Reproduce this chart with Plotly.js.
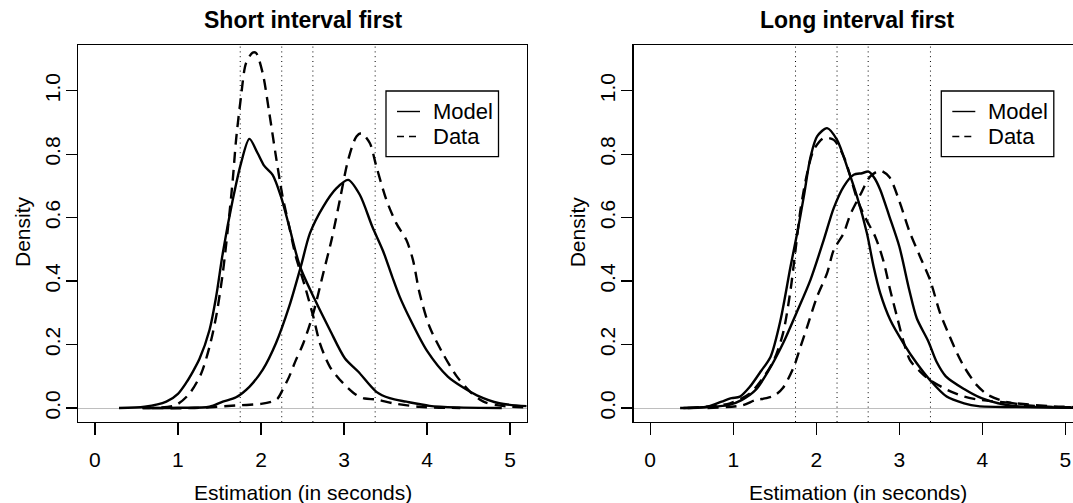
<!DOCTYPE html>
<html>
<head>
<meta charset="utf-8">
<script src="https://cdn.plot.ly/plotly-3.0.1.min.js"></script>
<style>
  html, body { margin: 0; padding: 0; background: #fff; }
  #chart { width: 1073px; height: 503px; }
</style>
</head>
<body>
<div id="chart"></div>
<script>
// ---------- Data ----------
const panelTitles = ["Short interval first", "Long interval first"];
const xTitle = "Estimation (in seconds)";
const yTitle = "Density";
const legendNames = ["Model", "Data"];
const xTicks = [0, 1, 2, 3, 4, 5];
const yTicks = [0, 0.2, 0.4, 0.6, 0.8, 1.0];
const intervals = [1.75, 2.25, 2.625, 3.375];

// Short interval first – Model, first (short) estimate
const shortModelA_x = [0.29, 0.60, 0.86, 1.00, 1.10, 1.18, 1.26, 1.38, 1.46, 1.54, 1.66, 1.76, 1.86, 1.96, 2.04, 2.14, 2.24, 2.34, 2.47, 2.65, 2.83, 3.01, 3.17, 3.39, 3.55, 3.75, 4.03, 4.36, 4.90];
const shortModelA_y = [0.000, 0.004, 0.020, 0.045, 0.080, 0.115, 0.155, 0.246, 0.351, 0.488, 0.656, 0.772, 0.848, 0.803, 0.763, 0.735, 0.667, 0.572, 0.446, 0.341, 0.246, 0.157, 0.115, 0.051, 0.031, 0.020, 0.007, 0.002, 0.000];
// Short interval first – Model, second (long) estimate
const shortModelB_x = [0.57, 1.00, 1.38, 1.54, 1.70, 1.86, 2.02, 2.18, 2.34, 2.48, 2.59, 2.75, 2.91, 3.05, 3.19, 3.34, 3.47, 3.58, 3.67, 3.80, 4.00, 4.25, 4.45, 4.60, 4.87, 5.20];
const shortModelB_y = [0.000, 0.001, 0.004, 0.020, 0.034, 0.067, 0.120, 0.204, 0.320, 0.446, 0.551, 0.635, 0.693, 0.719, 0.672, 0.572, 0.495, 0.414, 0.351, 0.278, 0.180, 0.099, 0.062, 0.040, 0.015, 0.006];
// Short interval first – Data, first estimate
const shortDataA_x = [0.58, 0.97, 1.14, 1.28, 1.38, 1.46, 1.54, 1.60, 1.66, 1.70, 1.76, 1.82, 1.90, 1.94, 2.02, 2.10, 2.18, 2.26, 2.34, 2.42, 2.53, 2.63, 2.71, 2.83, 2.99, 3.15, 3.25, 3.39, 3.59, 3.91, 4.40];
const shortDataA_y = [0.000, 0.009, 0.046, 0.109, 0.193, 0.288, 0.425, 0.562, 0.719, 0.845, 0.982, 1.087, 1.120, 1.119, 1.056, 0.930, 0.793, 0.667, 0.572, 0.477, 0.383, 0.288, 0.204, 0.130, 0.078, 0.041, 0.030, 0.027, 0.015, 0.004, 0.000];
// Short interval first – Data, second estimate
const shortDataB_x = [0.69, 1.20, 1.70, 2.00, 2.13, 2.20, 2.26, 2.34, 2.42, 2.51, 2.63, 2.75, 2.85, 2.95, 3.05, 3.15, 3.21, 3.31, 3.39, 3.51, 3.63, 3.75, 3.83, 3.91, 4.03, 4.19, 4.36, 4.52, 4.68, 4.84, 5.00, 5.20];
const shortDataB_y = [0.000, 0.000, 0.008, 0.013, 0.020, 0.030, 0.057, 0.099, 0.151, 0.204, 0.299, 0.425, 0.530, 0.656, 0.782, 0.856, 0.866, 0.835, 0.761, 0.656, 0.582, 0.530, 0.467, 0.362, 0.256, 0.172, 0.099, 0.051, 0.020, 0.009, 0.004, 0.002];

// Long interval first – Model, first estimate
const longModelA_x = [0.36, 0.69, 0.86, 0.98, 1.08, 1.20, 1.33, 1.45, 1.57, 1.69, 1.77, 1.85, 1.93, 2.01, 2.13, 2.25, 2.37, 2.49, 2.61, 2.69, 2.77, 2.89, 3.05, 3.21, 3.37, 3.57, 3.78, 3.95, 4.40, 5.20];
const longModelA_y = [0.000, 0.004, 0.020, 0.031, 0.036, 0.067, 0.115, 0.162, 0.278, 0.446, 0.551, 0.667, 0.790, 0.856, 0.882, 0.845, 0.761, 0.667, 0.551, 0.446, 0.362, 0.278, 0.204, 0.141, 0.088, 0.036, 0.015, 0.006, 0.003, 0.000];
// Long interval first – Model, second estimate
const longModelB_x = [0.40, 0.94, 1.10, 1.27, 1.43, 1.60, 1.76, 1.93, 2.09, 2.21, 2.33, 2.45, 2.55, 2.63, 2.70, 2.77, 2.88, 3.00, 3.12, 3.21, 3.35, 3.45, 3.56, 3.78, 3.99, 4.19, 4.40, 5.20];
const longModelB_y = [0.000, 0.009, 0.025, 0.057, 0.120, 0.204, 0.299, 0.404, 0.530, 0.630, 0.698, 0.735, 0.740, 0.745, 0.725, 0.688, 0.604, 0.509, 0.372, 0.283, 0.210, 0.145, 0.100, 0.060, 0.031, 0.015, 0.006, 0.001];
// Long interval first – Data, first estimate
const longDataA_x = [0.45, 0.96, 1.20, 1.37, 1.49, 1.60, 1.69, 1.75, 1.81, 1.89, 1.97, 2.09, 2.21, 2.33, 2.41, 2.49, 2.59, 2.71, 2.81, 2.89, 2.97, 3.05, 3.13, 3.25, 3.37, 3.58, 3.78, 3.99, 4.40, 4.81, 5.20];
const longDataA_y = [0.000, 0.015, 0.046, 0.099, 0.151, 0.236, 0.372, 0.498, 0.625, 0.740, 0.814, 0.851, 0.845, 0.793, 0.730, 0.660, 0.600, 0.540, 0.462, 0.372, 0.290, 0.210, 0.150, 0.115, 0.088, 0.057, 0.036, 0.025, 0.015, 0.006, 0.002];
// Long interval first – Data, second estimate
const longDataB_x = [0.69, 1.10, 1.27, 1.40, 1.50, 1.60, 1.73, 1.81, 1.89, 2.01, 2.13, 2.21, 2.33, 2.41, 2.53, 2.65, 2.77, 2.88, 3.00, 3.12, 3.25, 3.37, 3.49, 3.60, 3.70, 3.78, 3.93, 4.07, 4.28, 4.50, 4.80, 5.20];
const longDataB_y = [0.000, 0.008, 0.025, 0.031, 0.040, 0.064, 0.130, 0.193, 0.256, 0.351, 0.425, 0.498, 0.551, 0.610, 0.672, 0.730, 0.748, 0.728, 0.652, 0.558, 0.477, 0.404, 0.300, 0.230, 0.170, 0.130, 0.073, 0.041, 0.020, 0.010, 0.004, 0.002];

// ---------- Styling / layout ----------
const FONT = "Liberation Sans, Arial, Helvetica, sans-serif";
const W = 1073, H = 503;
const px = v => v / W;
const py = v => 1 - v / H;

const solid = { color: "#000", width: 2.4, shape: "spline", smoothing: 0.8 };
const dashed = { color: "#000", width: 2.4, shape: "spline", smoothing: 0.8, dash: "11px,7px" };

function curve(x, y, line, xa, ya, name) {
  return { type: "scatter", mode: "lines", x: x, y: y, line: line, xaxis: xa, yaxis: ya,
           name: name, showlegend: false, hoverinfo: "skip" };
}

const traces = [
  curve(shortModelA_x, shortModelA_y, solid, "x", "y", legendNames[0]),
  curve(shortDataA_x, shortDataA_y, dashed, "x", "y", legendNames[1]),
  curve(shortModelB_x, shortModelB_y, solid, "x", "y", legendNames[0]),
  curve(shortDataB_x, shortDataB_y, dashed, "x", "y", legendNames[1]),
  curve(longModelA_x, longModelA_y, solid, "x2", "y2", legendNames[0]),
  curve(longDataA_x, longDataA_y, dashed, "x2", "y2", legendNames[1]),
  curve(longModelB_x, longModelB_y, solid, "x2", "y2", legendNames[0]),
  curve(longDataB_x, longDataB_y, dashed, "x2", "y2", legendNames[1])
];

const unit = (526.7 - 78.3) / 5.4;
const xAxisBase = {
  range: [-0.2, 5.2], tickvals: xTicks, ticktext: xTicks.map(String),
  ticks: "outside", ticklen: 12, tickwidth: 1.3, tickcolor: "#000",
  ticklabelstandoff: 6,
  showline: true, linecolor: "#000", linewidth: 1.4, mirror: true,
  showgrid: false, zeroline: false, fixedrange: true,
  tickfont: { family: FONT, size: 21, color: "#000" }, automargin: false
};
const yAxisBase = {
  range: [-0.044, 1.144], tickvals: yTicks, ticktext: yTicks.map(v => v.toFixed(1)),
  tickangle: -90, ticks: "outside", ticklen: 11, tickwidth: 1.3, tickcolor: "#000",
  ticklabelstandoff: -2,
  showline: true, linecolor: "#000", linewidth: 1.4, mirror: true,
  showgrid: false, zeroline: true, zerolinecolor: "#bebebe", zerolinewidth: 1,
  fixedrange: true, domain: [py(422), py(45)],
  tickfont: { family: FONT, size: 21, color: "#000" }, automargin: false
};

const shapes = [];
const annotations = [];
[["x", "y"], ["x2", "y2"]].forEach(([xa, ya]) => {
  intervals.forEach(v => {
    shapes.push({ type: "line", xref: xa, yref: ya + " domain", x0: v, x1: v, y0: 0, y1: 1,
                  line: { color: "#000", width: 1, dash: "1px,3.8px" }, layer: "below" });
  });
});

// Legend boxes (one per panel), R-style: framed, short line samples
const legendRows = [111.5, 136.5];
[386, 386 + 555.3].forEach(lx => {
  shapes.push({ type: "rect", xref: "paper", yref: "paper", x0: px(lx), x1: px(lx + 112.5), y0: py(156.7), y1: py(91),
                line: { color: "#000", width: 1.3 }, fillcolor: "#fff", layer: "above" });
  shapes.push({ type: "line", xref: "paper", yref: "paper", x0: px(lx + 11), x1: px(lx + 34), y0: py(legendRows[0]), y1: py(legendRows[0]),
                line: { color: "#000", width: 1.4 }, layer: "above" });
  shapes.push({ type: "line", xref: "paper", yref: "paper", x0: px(lx + 11), x1: px(lx + 34), y0: py(legendRows[1]), y1: py(legendRows[1]),
                line: { color: "#000", width: 1.4, dash: "7px,5px" }, layer: "above" });
  legendRows.forEach((ly, i) => {
    annotations.push({ xref: "paper", yref: "paper", x: px(lx + 44.5), y: py(ly), xanchor: "left", yanchor: "middle",
      text: legendNames[i], showarrow: false, font: { family: FONT, size: 22, color: "#000" } });
  });
});

const centers = [(78.3 + 526.7) / 2, (633.6 + 1081.6) / 2];
centers.forEach((cx, i) => {
  annotations.push({ xref: "paper", yref: "paper", x: px(cx), y: py(20), xanchor: "center", yanchor: "middle",
    text: panelTitles[i], showarrow: false, font: { family: FONT, size: 23, color: "#000", weight: "bold" } });
  annotations.push({ xref: "paper", yref: "paper", x: px(cx), y: py(492), xanchor: "center", yanchor: "middle",
    text: xTitle, showarrow: false, font: { family: FONT, size: 21, color: "#000" } });
});
[22, 22 + 555.3].forEach(cx => {
  annotations.push({ xref: "paper", yref: "paper", x: px(cx), y: py(232), xanchor: "center", yanchor: "middle",
    text: yTitle, textangle: -90, showarrow: false, font: { family: FONT, size: 21, color: "#000" } });
});

const layout = {
  width: W, height: H,
  margin: { l: 0, r: 0, t: 0, b: 0, pad: 0 },
  paper_bgcolor: "#fff", plot_bgcolor: "#fff",
  font: { family: FONT, color: "#000" },
  xaxis: Object.assign({}, xAxisBase, { domain: [px(78.3), px(526.7)], anchor: "y" }),
  yaxis: Object.assign({}, yAxisBase, { anchor: "x" }),
  xaxis2: Object.assign({}, xAxisBase, { domain: [px(633.6), 1], range: [-0.2, -0.2 + (W - 633.6) / unit], anchor: "y2" }),
  yaxis2: Object.assign({}, yAxisBase, { anchor: "x2", mirror: false }),
  shapes: shapes,
  annotations: annotations,
  showlegend: false
};

Plotly.newPlot("chart", traces, layout, { staticPlot: true, displayModeBar: false });
</script>
</body>
</html>
